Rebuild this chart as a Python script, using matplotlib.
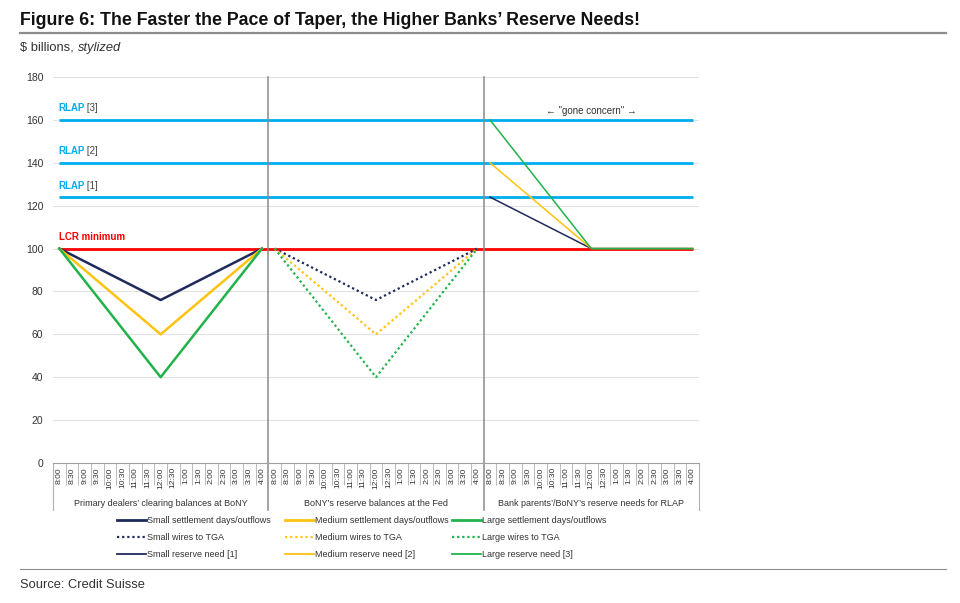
import matplotlib
matplotlib.use("Agg")
import matplotlib.pyplot as plt
from matplotlib.lines import Line2D
from matplotlib.text import Annotation

plt.rcParams['font.family'] = ['Liberation Sans', 'DejaVu Sans']

# ---------------- data ----------------
times = ['8:00', '8:30', '9:00', '9:30', '10:00', '10:30', '11:00', '11:30', '12:00',
         '12:30', '1:00', '1:30', '2:00', '2:30', '3:00', '3:30', '4:00']
groups = ["Primary dealers’ clearing balances at BoNY",
          "BoNY’s reserve balances at the Fed",
          "Bank parents’/BoNY’s reserve needs for RLAP"]

key_times = ['8:00', '12:00', '4:00']
# group 1: settlement days / outflows
small_settle = [100, 76, 100]
medium_settle = [100, 60, 100]
large_settle = [100, 40, 100]
# group 2: wires to TGA
small_tga = [100, 76, 100]
medium_tga = [100, 60, 100]
large_tga = [100, 40, 100]
# group 3: reserve needs
small_need = [124, 100, 100]
medium_need = [140, 100, 100]
large_need = [160, 100, 100]

rlap_levels = [124, 140, 160]
rlap_names = ['[1]', '[2]', '[3]']
lcr_min = 100

y_ticks = [0, 20, 40, 60, 80, 100, 120, 140, 160, 180]

# ---------------- style ----------------
NAVY = '#1f2a5c'
YELLOW = '#ffc20e'
GREEN = '#21b24b'
BLUE = '#00aeef'
RED = '#ff0000'

n = len(times)
cats = [t for g in range(3) for t in times]
def xpos(group, t):
    return group * n + times.index(t)

fig = plt.figure(figsize=(9.6, 6.03), dpi=100)
ax = fig.add_axes([0.0552, 0.2322, 0.6729, 0.6401])
ax.set_xlim(-0.5, 3 * n - 0.5)
ax.set_ylim(0, 180)

# gridlines
ax.set_yticks(y_ticks)
ax.yaxis.grid(True, color='#e2e2e2', lw=0.8)
ax.set_axisbelow(True)
ax.tick_params(axis='y', length=0, labelsize=7.5, labelcolor='#333333', pad=7)

# RLAP lines
x_first = xpos(0, times[0])
x_last = xpos(2, times[-1])
for lvl, nm in zip(rlap_levels, rlap_names):
    ax.plot([x_first, x_last], [lvl, lvl], color=BLUE, lw=2.0, solid_capstyle='butt', zorder=2)
    t = ax.text(x_first - 0.1, lvl + 3, 'RLAP', color=BLUE, fontsize=7, fontweight='bold',
                ha='left', va='bottom')
    ax.annotate(' ' + nm, xy=(1, 0), xycoords=t, color='#444444', fontsize=7,
                ha='left', va='bottom')
ax.plot([x_first, x_last], [lcr_min, lcr_min], color=RED, lw=2.0, solid_capstyle='butt', zorder=2)
ax.text(x_first, lcr_min + 3, 'LCR minimum', color=RED, fontsize=7, fontweight='bold',
        ha='left', va='bottom')

# group 1
xs1 = [xpos(0, t) for t in key_times]
ax.plot(xs1, small_settle, color=NAVY, lw=1.8, zorder=4)
ax.plot(xs1, medium_settle, color=YELLOW, lw=1.8, zorder=4)
ax.plot(xs1, large_settle, color=GREEN, lw=1.8, zorder=4)
# group 2
xs2 = [xpos(1, t) for t in key_times]
dots = (0, (1, 1.3))
ax.plot(xs2, small_tga, color=NAVY, lw=1.6, ls=dots, zorder=4)
ax.plot(xs2, medium_tga, color=YELLOW, lw=1.6, ls=dots, zorder=4)
ax.plot(xs2, large_tga, color=GREEN, lw=1.6, ls=dots, zorder=4)
# group 3
xs3 = [xpos(2, t) for t in key_times]
ax.plot(xs3, small_need, color=NAVY, lw=1.1, zorder=4)
ax.plot(xs3, medium_need, color=YELLOW, lw=1.1, zorder=4)
ax.plot(xs3, large_need, color=GREEN, lw=1.1, zorder=4)

ax.text(xpos(2, '12:00'), 162.0, '← "gone concern" →', fontsize=7, color='#333333',
        ha='center', va='bottom')

# x axis
ax.set_xticks(range(3 * n))
ax.set_xticklabels(cats, rotation=90, fontsize=6.1, color='#333333')
ax.tick_params(axis='x', which='major', length=0, pad=3)
minor = [i + 0.5 for i in range(3 * n - 1) if (i + 1) % n != 0]
ax.set_xticks(minor, minor=True)
ax.tick_params(axis='x', which='minor', length=16, width=0.6, color='#b0b0b0')

for s in ['top', 'right', 'left']:
    ax.spines[s].set_visible(False)
ax.spines['bottom'].set_color('#a0a0a0')
ax.spines['bottom'].set_linewidth(0.8)

# group separators
for g in range(1, 3):
    ax.axvline(g * n - 0.5, ymin=-0.122, ymax=1.0, color='#8a8a8a', lw=1.1, clip_on=False)
for xb in [-0.5, 3 * n - 0.5]:
    ax.axvline(xb, ymin=-0.122, ymax=0.0, color='#b0b0b0', lw=0.8, clip_on=False)

for g, name in enumerate(groups):
    ax.text(g * n + (n - 1) / 2, -0.105, name, transform=ax.get_xaxis_transform(),
            ha='center', va='center', fontsize=6.5, color='#333333')

# legend: one column per size
def h(c, ls='-', lw=2.0):
    return Line2D([], [], color=c, ls=ls, lw=lw)
leg_cols = [
    ([h(NAVY), h(NAVY, dots, 1.6), h(NAVY, '-', 1.3)],
     ['Small settlement days/outflows', 'Small wires to TGA', 'Small reserve need [1]'], 117),
    ([h(YELLOW), h(YELLOW, dots, 1.6), h(YELLOW, '-', 1.3)],
     ['Medium settlement days/outflows', 'Medium wires to TGA', 'Medium reserve need [2]'], 285),
    ([h(GREEN), h(GREEN, dots, 1.6), h(GREEN, '-', 1.3)],
     ['Large settlement days/outflows', 'Large wires to TGA', 'Large reserve need [3]'], 452),
]
for hs, ls_, xpx in leg_cols:
    fig.legend(hs, ls_, loc='upper left', bbox_to_anchor=(xpx / 960, 1 - 516 / 603),
               frameon=False, fontsize=6.5, handlelength=3.2, handletextpad=0.15,
               labelspacing=0.9, labelcolor='#333333', borderaxespad=0, borderpad=0)

# title / subtitle / source
fig.text(0.021, 0.966, 'Figure 6: The Faster the Pace of Taper, the Higher Banks’ Reserve Needs!',
         fontsize=12.8, fontweight='bold', color='#111111', ha='left', va='center')
fig.add_artist(Line2D([0.021, 0.985], [0.945, 0.945], color='#8c8c8c', lw=1.6))
st = fig.text(0.021, 0.921, '$ billions, ', fontsize=9.3, color='#333333', ha='left', va='center')
fig.add_artist(Annotation('stylized', xy=(1, 0), xycoords=st, fontsize=9.3, style='italic',
                          color='#333333', ha='left', va='bottom'))
fig.add_artist(Line2D([0.021, 0.985], [0.057, 0.057], color='#8c8c8c', lw=0.8))
fig.text(0.021, 0.030, 'Source: Credit Suisse', fontsize=9.3, color='#333333',
         ha='left', va='center')

fig.savefig('out.png', dpi=100)
